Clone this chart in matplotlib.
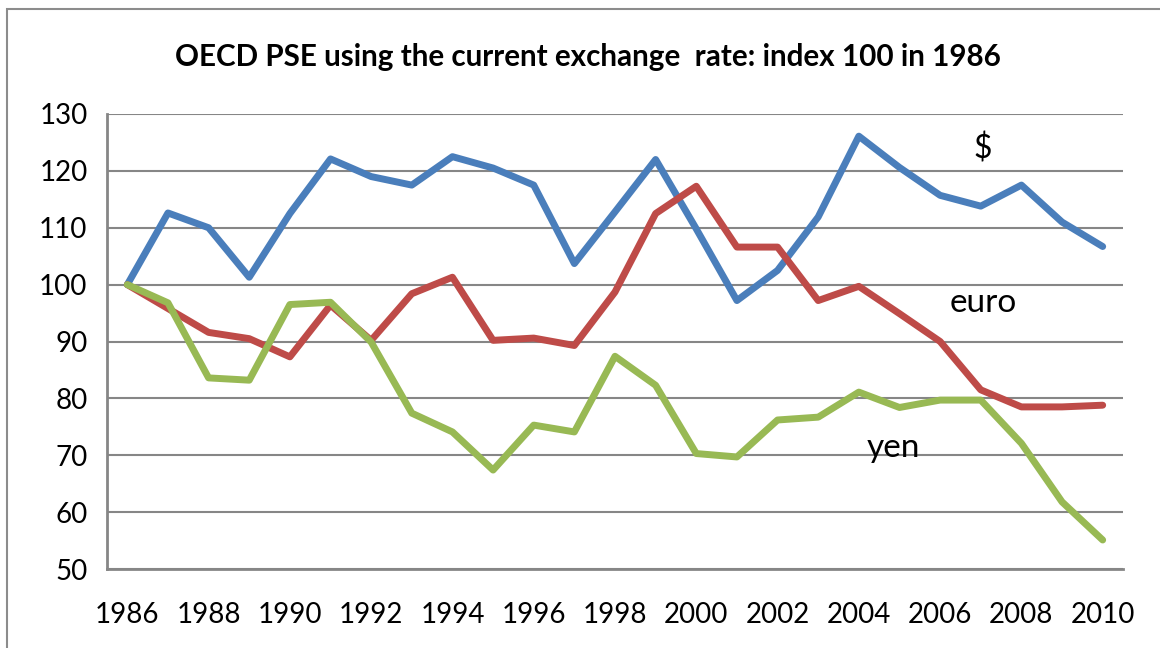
import matplotlib.pyplot as plt
from matplotlib.patches import Rectangle

years = list(range(1986, 2011))
usd = [100, 112.6, 110.0, 101.3, 112.5, 122.1, 119.0, 117.5, 122.5, 120.5,
       117.5, 103.7, 112.8, 122.0, 109.8, 97.2, 102.5, 111.9, 126.1, 120.6,
       115.7, 113.8, 117.5, 111.0, 106.7]
euro = [100, 95.8, 91.6, 90.5, 87.3, 96.4, 90.2, 98.4, 101.3, 90.2,
        90.6, 89.3, 98.7, 112.5, 117.3, 106.6, 106.6, 97.2, 99.7, 94.9,
        90.0, 81.5, 78.5, 78.5, 78.8]
yen = [100, 96.8, 83.6, 83.2, 96.5, 96.9, 89.9, 77.4, 74.1, 67.4,
       75.3, 74.1, 87.4, 82.3, 70.3, 69.7, 76.2, 76.7, 81.1, 78.4,
       79.7, 79.7, 72.1, 61.8, 55.1]
yticks = [50, 60, 70, 80, 90, 100, 110, 120, 130]
xticks = list(range(1986, 2011, 2))

plt.rcParams['font.family'] = ['Lato', 'DejaVu Sans']

fig = plt.figure(figsize=(11.6, 6.48), dpi=100)
# outer chart border
fig.patches.append(Rectangle((7 / 1160, -0.1), 1.2, 1.1 - 9 / 648,
                             transform=fig.transFigure, fill=False,
                             edgecolor='#8c8c8c', linewidth=1.5))
ax = fig.add_axes([107 / 1160, 1 - 569 / 648, (1123 - 107) / 1160, (569 - 114) / 648])

grid_col = '#868686'
for v in yticks:
    ax.axhline(v, color=grid_col, linewidth=1.5, zorder=1)

lw = 5
ax.plot(years, usd, color='#4A7EBB', linewidth=lw, solid_capstyle='round', zorder=3)
ax.plot(years, euro, color='#BE4B48', linewidth=lw, solid_capstyle='round', zorder=3)
ax.plot(years, yen, color='#98B954', linewidth=lw, solid_capstyle='round', zorder=3)

ax.text(2007.05, 123.9, '$', fontsize=23, ha='center', va='center')
ax.text(2007.05, 96.7, 'euro', fontsize=24, ha='center', va='center')
ax.text(2004.85, 71.2, 'yen', fontsize=24, ha='center', va='center')

ax.set_xlim(1985.5, 2010.5)
ax.set_ylim(50, 130)
ax.set_yticks(yticks)
ax.set_xticks(xticks)
ax.tick_params(length=0, labelsize=20)
ax.tick_params(axis='y', pad=14)
ax.tick_params(axis='x', pad=24)
for s in ['top', 'right']:
    ax.spines[s].set_visible(False)
for s in ['left', 'bottom']:
    ax.spines[s].set_color(grid_col)
    ax.spines[s].set_linewidth(2)

fig.text(588 / 1160, 1 - 57 / 648,
         'OECD PSE using the current exchange  rate: index 100 in 1986',
         fontsize=21.3, fontweight='bold', ha='center', va='center')

fig.savefig('out.png', dpi=100)
